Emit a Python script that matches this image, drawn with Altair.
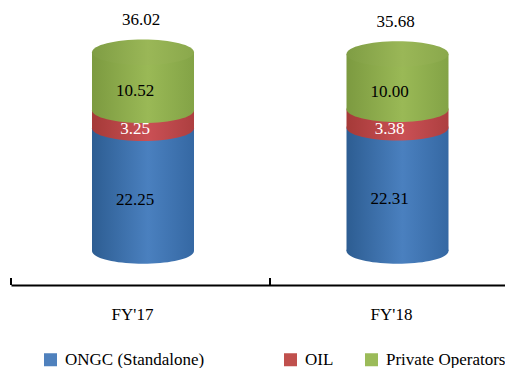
import altair as alt
import pandas as pd

years = ["FY'17", "FY'18"]
series = ["ONGC (Standalone)", "OIL", "Private Operators"]
ongc = [22.25, 22.31]
oil = [3.25, 3.38]
private = [10.52, 10.00]
totals = [36.02, 35.68]
tick_top = -4.9
axis_bottom = -6.16
y_top = 44.02
legend_colors = ["#4f81bd", "#c0504d", "#9bbb59"]
shades = {
    "ONGC (Standalone)": ("#2d5d92", "#4a80bf", "#3568a3"),
    "OIL": ("#a53a38", "#ca5055", "#ad3f40"),
    "Private Operators": ("#7c9a40", "#9ab956", "#83a346"),
}
label_colors = {"ONGC (Standalone)": "black", "OIL": "white", "Private Operators": "black"}
FONT = "Liberation Serif"

rows = []
for i, y in enumerate(years):
    base = 0
    for s, vals in zip(series, [ongc, oil, private]):
        rows.append(dict(year=y, series=s, value=vals[i], base=base, top=base + vals[i],
                         mid=base + vals[i] / 2))
        base += vals[i]
df = pd.DataFrame(rows)
tot = pd.DataFrame({"year": years, "total": totals})

ELLIPSE = "M-1,0 A1,0.25 0 1,0 1,0 A1,0.25 0 1,0 -1,0 Z"
yscale = alt.Scale(domain=[axis_bottom, y_top], nice=False, zero=False)
xcyl = alt.X("year:N", scale=alt.Scale(type="point", domain=years, range=[132, 386.5], padding=0), axis=None)
Y = alt.Y("top:Q", scale=yscale, axis=None, title=None)


def grad(a, b, c):
    return alt.Gradient(gradient="linear", x1=0, x2=1, y1=0, y2=0,
                        stops=[alt.GradientStop(offset=0, color=a), alt.GradientStop(offset=0.55, color=b),
                               alt.GradientStop(offset=1, color=c)])


flat = alt.Chart(df).mark_bar(width=100).encode(
    x=xcyl, y=Y, y2="base:Q",
    color=alt.Color("series:N", scale=alt.Scale(domain=series, range=legend_colors),
                    legend=alt.Legend(orient="none", legendX=31, legendY=343, direction="horizontal", columns=3,
                                      title=None, symbolType="square", symbolSize=169, symbolStrokeWidth=0,
                                      labelFont=FONT, labelFontSize=17, labelColor="black", gridAlign="each",
                                      columnPadding=29, labelOffset=6, padding=0, labelLimit=400,
                                      labelExpr="datum.label == 'ONGC (Standalone)' ? datum.label + '\u2800\u2800\u2800\u2800' : datum.label")),
)

layers = [flat]
for s in series:
    sub = df[df.series == s]
    g = grad(*shades[s])
    layers.append(alt.Chart(sub).mark_bar(width=102, fill=g, opacity=1).encode(
        x=xcyl, y=Y, y2="base:Q"))
    layers.append(alt.Chart(sub).mark_point(shape=ELLIPSE, size=10404, filled=True, fill=g, opacity=1,
                                            strokeWidth=0).encode(
        x=xcyl, y=alt.Y("base:Q", scale=yscale, axis=None)))
lid = grad("#7f9d44", "#9ab757", "#8aa84c")
layers.append(alt.Chart(df[df.series == series[-1]]).mark_point(
    shape=ELLIPSE, size=10404, filled=True, fill=lid, opacity=1, strokeWidth=0).encode(x=xcyl, y=Y))

for s in series:
    layers.append(alt.Chart(df[df.series == s]).mark_text(
        font=FONT, fontSize=17, color=label_colors[s], dx=-8, dy=10, baseline="middle").encode(
        x=xcyl, y=alt.Y("mid:Q", scale=yscale, axis=None), text=alt.Text("value:Q", format=".2f")))
layers.append(alt.Chart(tot).mark_text(font=FONT, fontSize=17, color="black", dx=-2, dy=-32, baseline="middle").encode(
    x=xcyl, y=alt.Y("total:Q", scale=yscale, axis=None), text=alt.Text("total:Q", format=".2f")))
cyl = alt.layer(*layers)

ticks = alt.Chart(tot).transform_calculate(a=f"{axis_bottom}", b=f"{tick_top}").mark_rule(
    color="black", strokeWidth=2).encode(
    x=alt.X("year:N", bandPosition=0, scale=alt.Scale(type="band", domain=years, range=[0, 518], padding=0),
            title=None,
            axis=alt.Axis(labelAngle=0, ticks=False, domainColor="black", domainWidth=2, labelFont=FONT,
                          labelFontSize=17, labelColor="black", labelPadding=29, labelOffset=-8,
                          labelBaseline="middle", grid=False)),
    y=alt.Y("a:Q", scale=yscale, axis=None), y2="b:Q")

chart = alt.layer(ticks, cyl).resolve_scale(x="independent").properties(
    width=494, height=277,
    padding={"left": 3, "top": 0, "right": 0, "bottom": 83},
    autosize=alt.AutoSizeParams(type="none"),
    background="white",
).configure_view(stroke=None)

chart.save("out.html", embed_options={"renderer": "svg", "actions": False})
